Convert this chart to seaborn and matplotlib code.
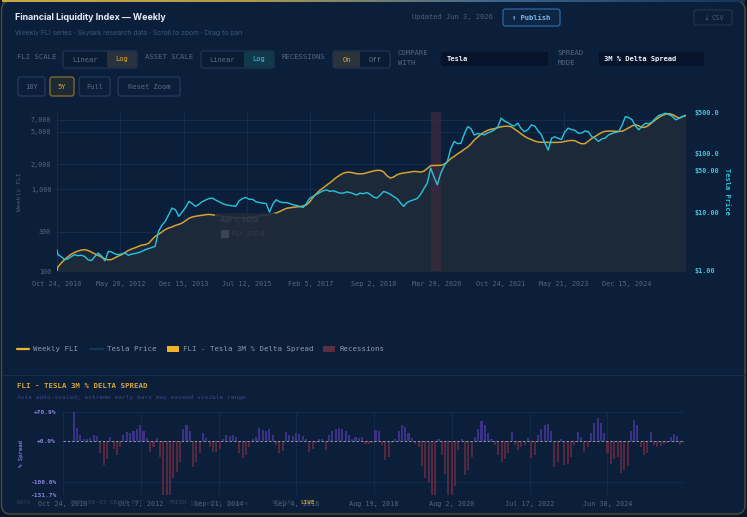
import numpy as np
import pandas as pd
import seaborn as sns
import matplotlib.pyplot as plt
from matplotlib import font_manager
from matplotlib.ft2font import FT2Font
from matplotlib.patches import FancyBboxPatch
from matplotlib.lines import Line2D
from matplotlib.transforms import IdentityTransform
from matplotlib.colors import LinearSegmentedColormap
from matplotlib.ticker import NullLocator

W, H = 747, 517

# ---- data (monthly reads of the weekly series) ----
dates = pd.to_datetime(["2010-10-24"]).append(pd.date_range("2010-11-01", "2026-06-01", freq="MS"))

fli_weekly = [
    100, 112, 125,
    138, 150, 160, 168, 175, 180, 182, 178, 170, 162, 155, 148,
    140, 137, 138, 145, 152, 158, 168, 178, 186, 192, 200, 207,
    210, 218, 240, 265, 280, 300, 320, 335, 345, 360, 370, 385,
    410, 440, 455, 465, 472, 480, 486, 490, 485, 478, 470, 465,
    460, 455, 450, 445, 442, 443, 448, 452, 455, 462, 470, 478,
    480, 490, 500, 510, 530, 555, 580, 590, 598, 605, 610, 620,
    640, 700, 790, 880, 960, 1030, 1110, 1190, 1290, 1390, 1480, 1560,
    1600, 1600, 1570, 1540, 1530, 1540, 1580, 1620, 1660, 1690, 1690, 1620,
    1450, 1360, 1400, 1490, 1540, 1570, 1590, 1610, 1640, 1630, 1610, 1650,
    1780, 1930, 1940, 1940, 1950, 2000, 2150, 2350, 2500, 2680, 2850, 3050,
    3250, 3550, 3950, 4300, 4650, 4950, 5200, 5350, 5450, 5600, 5750, 5820,
    5840, 5750, 5400, 5060, 4700, 4400, 4170, 4000, 3850, 3750, 3720, 3710,
    3700, 3700, 3700, 3710, 3730, 3800, 3880, 3920, 3880, 3700, 3560, 3580,
    3850, 4150, 4370, 4650, 4900, 5060, 5100, 5080, 5050, 5050, 5060, 5300,
    5600, 5900, 6090, 5900, 5640, 5700, 6000, 6500, 7000, 7480, 7900, 8200,
    8300, 8100, 7700, 7330, 7600, 7940,
]

tesla_price = [
    2.30, 1.90, 1.75,
    1.55, 1.62, 1.75, 1.89, 1.82, 1.85, 1.77, 1.55, 1.50, 1.75, 2.02, 1.80,
    1.49, 2.15, 2.10, 1.95, 1.89, 1.95, 2.02, 1.85, 1.94, 1.98, 2.05, 2.15,
    2.30, 2.40, 2.50, 2.62, 4.70, 6.00, 6.95, 9.00, 11.7, 11.0, 8.47, 10.0,
    12.0, 15.2, 14.0, 12.5, 13.5, 15.0, 16.0, 17.0, 17.3, 16.0, 15.0, 14.0,
    13.3, 13.0, 12.7, 12.5, 15.5, 17.0, 17.7, 16.5, 16.5, 15.0, 14.5, 14.2,
    14.0, 10.0, 13.5, 16.2, 15.0, 14.5, 14.5, 14.0, 13.3, 13.0, 12.5, 12.0,
    14.0, 17.3, 18.5, 20.0, 21.5, 23.0, 23.8, 22.5, 23.0, 22.0, 21.0, 21.0,
    22.0, 21.5, 20.5, 19.5, 21.0, 20.5, 21.5, 20.0, 18.0, 17.3, 19.5, 22.4,
    21.5, 20.0, 18.4, 17.0, 14.5, 12.5, 14.5, 15.5, 16.2, 17.0, 20.0, 25.0,
    31.0, 55.7, 40.0, 29.0, 45.0, 60.0, 72.3, 120, 158, 145, 147, 210,
    282, 260, 204, 215, 210, 205, 220, 232, 250, 280, 392, 350,
    330, 300, 290, 323, 260, 232, 250, 301, 290, 240, 204, 150,
    113, 180, 190, 179, 170, 230, 266, 250, 245, 218, 220, 239,
    230, 190, 179, 158, 175, 180, 204, 215, 225, 232, 300, 418,
    400, 368, 290, 249, 290, 323, 315, 340, 392, 440, 455, 478,
    450, 420, 368, 390, 420, 435,
]

spread_3m = [
    np.nan, np.nan, np.nan,
    np.nan, 70.9, 33, 15, 6, 5, 7, 15, 12, -30, -59, -45,
    10, -20, -34, -15, 15, 23, 20, 25, 30, 40, 25, 8,
    -26, -15, 8, -40, -131.7, -131.7, -131.7, -90, -75, -50, 30, 39,
    25, -63, -50, -30, 19, 8, -15, -26, -26, -20, 5, 15,
    12, 15, 10, -30, -42, -35, -15, 5, 10, 33, 28, 25,
    30, 15, -10, -30, -25, 23, 15, 12, 19, 17, 12, 5,
    -26, -20, -5, 5, 5, -22, 15, 25, 30, 33, 30, 25,
    15, 5, 10, 8, 10, -8, -8, -5, 27, 24, -10, -46,
    -40, -5, 5, 25, 39, 35, 20, 8, -8, -15, -60, -90,
    -99, -131.7, -131.7, 6, -34, -80, -131.7, -131.7, -110, -22, 5, -83,
    -70, -40, 10, 30, 49, 40, 20, 5, -10, -35, -50, -45,
    -30, 23, -10, -22, -15, -10, 8, -42, -35, 15, 30, 38,
    41, 25, -63, -50, 5, -59, -55, -40, -10, 23, 10, -26,
    -15, 20, 45, 57, 45, 20, -30, -55, -45, -40, -79, -70,
    -60, 25, 51, 40, -15, -34, -28, 21, -10, -14, -12, -8,
    -5, 10, 16, 12, -10, -6,
]

main_ticks = ["2010-10-24", "2012-05-20", "2013-12-15", "2015-07-12", "2017-02-05",
              "2018-09-02", "2020-03-29", "2021-10-24", "2023-05-21", "2024-12-15"]
main_labels = ["Oct 24, 2010", "May 20, 2012", "Dec 15, 2013", "Jul 12, 2015", "Feb 5, 2017",
               "Sep 2, 2018", "Mar 29, 2020", "Oct 24, 2021", "May 21, 2023", "Dec 15, 2024"]
spread_ticks = ["2010-10-24", "2012-10-07", "2014-09-21", "2016-09-04",
                "2018-08-19", "2020-08-02", "2022-07-17", "2024-06-30"]
spread_labels = ["Oct 24, 2010", "Oct 7, 2012", "Sep 21, 2014", "Sep 4, 2016",
                 "Aug 19, 2018", "Aug 2, 2020", "Jul 17, 2022", "Jun 30, 2024"]
fli_ticks = [100, 300, 1000, 2000, 5000, 7000]
fli_tick_labels = ["100", "300", "1,000", "2,000", "5,000", "7,000"]
price_ticks = [1, 10, 50, 100, 500]
price_tick_labels = ["$1.00", "$10.00", "$50.00", "$100.0", "$500.0"]
spread_yticks = [70.9, 0, -100, -131.7]
spread_ytick_labels = ["+70.9%", "+0.0%", "-100.0%", "-131.7%"]
recession = ("2020-02-01", "2020-04-30")
x_range = (pd.Timestamp("2010-10-24"), pd.Timestamp("2026-06-03"))

df = pd.DataFrame({"date": dates, "fli": fli_weekly, "tesla": tesla_price, "spread": spread_3m})

# ---- style ----
BG = "#0b1f3a"
GOLD = "#d6a232"
CYAN = "#27c5dd"
GRID = "#15304e"
MUTED = "#56677f"
MONO = ["DejaVu Sans Mono", "DejaVu Sans"]
SANS = ["Inter", "DejaVu Sans"]

sns.set_theme(style="dark", rc={"axes.facecolor": BG, "figure.facecolor": "#081729"})
plt.rcParams["font.family"] = MONO


def family_with(ch):
    # first installed family that actually has the glyph
    for f in font_manager.fontManager.ttflist:
        try:
            if ord(ch) in FT2Font(f.fname).get_charmap():
                return f.name
        except Exception:
            continue
    return None


fig = plt.figure(figsize=(W / 100, H / 100), dpi=100)


def rect(x0, y0, x1, y1):
    return [x0 / W, 1 - y1 / H, (x1 - x0) / W, (y1 - y0) / H]


def box(x0, y0, x1, y1, fc, ec="none", lw=0.8, r=2.5, z=5, alpha=1):
    p = FancyBboxPatch((x0, H - y1), x1 - x0, y1 - y0, boxstyle=f"round,pad=0,rounding_size={r}",
                       fc=fc, ec=ec, lw=lw, transform=IdentityTransform(), zorder=z, alpha=alpha)
    fig.add_artist(p)


def txt(x, y, s, **kw):
    kw.setdefault("va", "center")
    kw.setdefault("family", MONO)
    kw.setdefault("zorder", 10)
    fig.text(x / W, 1 - y / H, s, **kw)


def hline(x0, x1, y, color, lw=1.0, z=5):
    fig.add_artist(Line2D([x0, x1], [H - y, H - y], color=color, lw=lw,
                          transform=IdentityTransform(), zorder=z))


# card + top accent
box(1.5, 1, 745, 514, fc=BG, ec="#4d4f3a", lw=1.0, r=9, z=-10)
ax_top = fig.add_axes([0.003, 1 - 2.2 / H, 0.994, 2.2 / H])
ax_top.imshow(np.linspace(0, 1, 256)[None, :], aspect="auto",
              cmap=LinearSegmentedColormap.from_list("acc", ["#c8a848", "#b09a4c", "#3a6690", "#14345a"]))
ax_top.axis("off")

# ---- header ----
txt(15, 17, "Financial Liquidity Index — Weekly", color="#e6edf5", fontsize=6.4, fontweight="bold", family=SANS)
txt(15, 33, "Weekly FLI series · Skylark research data · Scroll to zoom · Drag to pan",
    color="#3d5677", fontsize=4.9, family=SANS)
txt(412, 17, "Updated Jun 3, 2026", color="#4f6078", fontsize=5.1)
box(503, 9, 560, 26, fc="#0d2644", ec="#2c68a8", lw=0.9)
txt(531.5, 17.5, "↑ Publish", color="#80b9ef", fontsize=5.1, fontweight="bold", ha="center")
box(694, 10, 732, 25, fc="none", ec="#223650", lw=0.8)
icon_fam = family_with("⤓")
if icon_fam:
    txt(706, 17.5, "⤓", color="#4b5b70", fontsize=5, ha="center", family=[icon_fam, "DejaVu Sans"])
else:
    # no installed family has the download glyph: draw it as a small arrow over a bar
    fig.add_artist(Line2D([706, 706], [H - 14, H - 20], color="#4b5b70", lw=0.7, transform=IdentityTransform(), zorder=10))
    fig.add_artist(Line2D([704, 706, 708], [H - 18, H - 20, H - 18], color="#4b5b70", lw=0.7, transform=IdentityTransform(), zorder=10))
    hline(703.5, 708.5, 21, "#4b5b70", lw=0.7, z=10)
txt(718, 17.5, "CSV", color="#4b5b70", fontsize=5, ha="center")

# controls row
LBL = "#56677f"
txt(17, 57, "FLI SCALE", color=LBL, fontsize=5.2)
box(63, 51, 137, 68, fc="#0a1c34", ec="#23385a")
box(107, 51.5, 136.5, 67.5, fc="#2a333d", r=2)
txt(85, 59.5, "Linear", color="#5d6e86", fontsize=5.1, ha="center")
txt(122, 59.5, "Log", color="#e0a830", fontsize=5.1, ha="center")

txt(145, 57, "ASSET SCALE", color=LBL, fontsize=5.2)
box(201, 51, 274, 68, fc="#0a1c34", ec="#23385a")
box(244, 51.5, 273.5, 67.5, fc="#12384c", r=2)
txt(222, 59.5, "Linear", color="#5d6e86", fontsize=5.1, ha="center")
txt(259, 59.5, "Log", color="#3ac8e0", fontsize=5.1, ha="center")

txt(282, 57, "RECESSIONS", color=LBL, fontsize=5.2)
box(333, 51, 390, 68, fc="#0a1c34", ec="#23385a")
box(333.5, 51.5, 360, 67.5, fc="#2d333b", r=2)
txt(346.5, 59.5, "On", color="#e0a830", fontsize=5.1, ha="center")
txt(375, 59.5, "Off", color="#5d6e86", fontsize=5.1, ha="center")

txt(398, 53, "COMPARE", color=LBL, fontsize=5.2)
txt(398, 63, "WITH", color=LBL, fontsize=5.2)
box(440, 51, 549, 67, fc="#06132a", ec="#12243c")
txt(447, 59, "Tesla", color="#eef3f8", fontsize=5.1, fontweight="bold")
txt(558, 53, "SPREAD", color=LBL, fontsize=5.2)
txt(558, 63, "MODE", color=LBL, fontsize=5.2)
box(598, 51, 705, 67, fc="#06132a", ec="#12243c")
txt(604, 59, "3M % Delta Spread", color="#eef3f8", fontsize=5.1, fontweight="bold")

# range buttons
for x0, x1, lab, active in [(18, 45, "10Y", False), (50, 74, "5Y", True),
                            (79, 110, "Full", False), (118, 180, "Reset Zoom", False)]:
    box(x0, 77, x1, 96, fc="#1d2a33" if active else "#0b1f3a",
        ec="#8c6f2c" if active else "#26395a", lw=0.9)
    txt((x0 + x1) / 2, 87, lab, color="#e0a830" if active else "#5a6b83", fontsize=5.1, ha="center")

# ---- main chart ----
ax = fig.add_axes(rect(57, 112, 686, 271))
ax.set_facecolor(BG)
ax.set_yscale("log")
ax.fill_between(df["date"], df["fli"], 1, color="#1b2939", lw=0, zorder=1)
ax.axvspan(pd.Timestamp(recession[0]), pd.Timestamp(recession[1]), color="#3e2a40", alpha=0.7, lw=0, zorder=1.5)
sns.lineplot(data=df, x="date", y="fli", ax=ax, color=GOLD, lw=1.1, zorder=3)
ax.set_ylim(100, 8700)
ax.set_xlim(*x_range)
ax.set_yticks(fli_ticks)
ax.set_yticklabels(fli_tick_labels)
ax.yaxis.set_minor_locator(NullLocator())
ax.set_xticks(pd.to_datetime(main_ticks))
ax.set_xticklabels(main_labels)
ax.grid(True, color=GRID, lw=0.6)
ax.set_axisbelow(True)
ax.tick_params(colors=MUTED, labelsize=4.9, length=0)
ax.tick_params(axis="x", pad=7)
ax.tick_params(axis="y", pad=4)
ax.set_xlabel("")
ax.set_ylabel("Weekly FLI", color="#4b5c74", fontsize=4.6, va="center", ha="center")
ax.yaxis.set_label_coords((20 - 57) / 629, 0.5)

ax2 = ax.twinx()
ax2.set_yscale("log")
sns.lineplot(data=df, x="date", y="tesla", ax=ax2, color=CYAN, lw=1.0)
ax2.set_ylim(1, 500)
ax2.set_xlim(*x_range)
ax2.set_yticks(price_ticks)
ax2.set_yticklabels(price_tick_labels)
ax2.yaxis.set_minor_locator(NullLocator())
ax2.tick_params(axis="y", colors="#4cc3da", labelsize=4.9, length=0, pad=6)
for t in ax2.get_yticklabels():
    t.set_fontweight("bold")
ax2.set_ylabel("Tesla Price", color=CYAN, fontsize=5, fontweight="bold", rotation=270, va="center", ha="center")
ax2.yaxis.set_label_coords((727 - 57) / 629, 0.5)
ax2.grid(False)
for a in (ax, ax2):
    for s in a.spines.values():
        s.set_visible(False)

# faded hover tooltip left on the chart
box(215, 213, 276, 244, fc="#1f2b3a", r=2, z=6, alpha=0.9)
txt(220, 220, "Apr 7, 2013", color="#2f3d4e", fontsize=5, fontweight="bold", family=SANS)
box(221, 230, 229, 238, fc="#3a4654", r=0.5, z=7)
txt(232, 234, "FLI: 270.6", color="#2f3d4e", fontsize=5, family=SANS)

# ---- legend ----
LEG = "#8c9bb0"
hline(17, 29, 349, "#f0b429", lw=1.6)
txt(33, 349, "Weekly FLI", color=LEG, fontsize=5.3)
hline(90, 103, 349, "#173656", lw=1.6)
txt(107, 349, "Tesla Price", color=LEG, fontsize=5.3)
box(167, 346, 179, 352, fc="#f0b429", r=0.5)
txt(183, 349, "FLI - Tesla 3M % Delta Spread", color=LEG, fontsize=5.3)
box(323, 346, 335, 352, fc="#5a2f40", r=0.5)
txt(340, 349, "Recessions", color=LEG, fontsize=5.3)

hline(3, 745, 375, "#17304c", lw=0.8)
txt(17, 386, "FLI - TESLA 3M % DELTA SPREAD", color="#d9a53a", fontsize=5.3, fontweight="bold")
txt(17, 397, "Axis auto-scaled; extreme early bars may exceed visible range", color="#3d4888", fontsize=4.5)

# ---- spread chart ----
ax3 = fig.add_axes(rect(63, 412, 684, 495))
ax3.set_facecolor(BG)
vals = np.array(spread_3m, dtype=float)
bar_colors = np.where(np.nan_to_num(vals) >= 0, "#3f3590", "#5e2a40")
ax3.bar(df["date"], vals, width=19, color=bar_colors, alpha=0.9, lw=0, zorder=2)
ax3.axhline(0, color="#8d99ab", lw=0.7, ls=(0, (2.5, 2)), zorder=3)
ax3.set_ylim(-131.7, 70.9)
ax3.set_xlim(*x_range)
ax3.set_yticks(spread_yticks)
ax3.set_yticklabels(spread_ytick_labels)
ax3.set_xticks(pd.to_datetime(spread_ticks))
ax3.set_xticklabels(spread_labels)
ax3.grid(True, color=GRID, lw=0.5)
ax3.set_axisbelow(True)
ax3.tick_params(length=0, labelsize=4.5)
ax3.tick_params(axis="y", colors="#8a82dd", pad=5)
ax3.tick_params(axis="x", colors=MUTED, labelsize=4.9, pad=4)
for t in ax3.get_yticklabels():
    t.set_fontweight("bold")
ax3.set_ylabel("% Spread", color="#7a72cc", fontsize=4.1, fontweight="bold", va="center", ha="center")
ax3.yaxis.set_label_coords((22 - 63) / 621, 0.5)
for s in ax3.spines.values():
    s.set_visible(False)

# footer status line (sits on top of the spread axis dates, as in the source)
FT = "#33445c"
txt(17, 503, "DATA", color=FT, fontsize=4.3)
txt(70, 503, "2026-06-03 18:00 EST", color=FT, fontsize=4.3)
txt(168, 503, "FRESH", color=FT, fontsize=4.3)
txt(190, 503, "12d until update", color=FT, fontsize=4.3)
txt(272, 503, "STATUS", color=FT, fontsize=4.3)
txt(300, 503, "LIVE", color="#b79a38", fontsize=4.3, fontweight="bold")

fig.savefig("out.png", dpi=100)
